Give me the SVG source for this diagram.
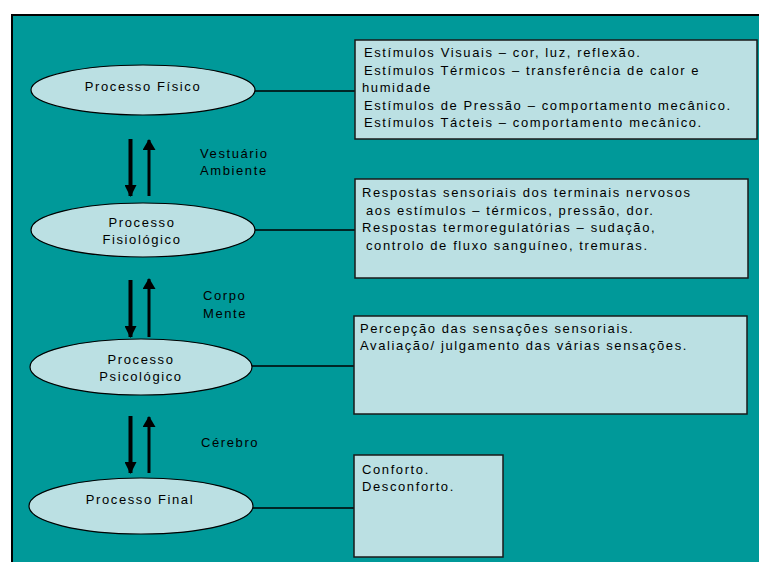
<svg xmlns="http://www.w3.org/2000/svg" width="759" height="562" viewBox="0 0 759 562">
<style>
text{font-family:"Liberation Sans",Arial,sans-serif;font-size:13px;fill:#000;letter-spacing:1.6px}
.c{text-anchor:middle}
.node{fill:#BBE0E3;stroke:#000;stroke-width:1.2}
.box{fill:#BBE0E3;stroke:#1a1a1a;stroke-width:1.5}
.link{stroke:#000;stroke-width:1.5;fill:none}
.dn{stroke:#000;stroke-width:4;marker-end:url(#hd)}
.up{stroke:#000;stroke-width:3;marker-end:url(#hu)}
</style>
<defs>
<marker id="hd" markerUnits="userSpaceOnUse" markerWidth="12" markerHeight="12" viewBox="0 0 12 12" refX="11" refY="6" orient="auto"><path d="M0,0L12,6L0,12z" fill="#000"/></marker>
<marker id="hu" markerUnits="userSpaceOnUse" markerWidth="11" markerHeight="13" viewBox="0 0 11 13" refX="10" refY="6.5" orient="auto"><path d="M0,0L11,6.5L0,13z" fill="#000"/></marker>
</defs>
<rect x="12" y="15" width="760" height="560" fill="#009999" stroke="#000" stroke-width="2"/>
<g id="connectors">
<line class="link" x1="255" y1="91" x2="355" y2="91"/>
<line class="link" x1="255" y1="230" x2="355" y2="230"/>
<line class="link" x1="252" y1="366" x2="354" y2="366"/>
<line class="link" x1="253" y1="508" x2="354" y2="508"/>
<line class="dn" x1="130.5" y1="139" x2="130.5" y2="196"/>
<line class="up" x1="149" y1="196" x2="149" y2="140"/>
<line class="dn" x1="130.5" y1="280" x2="130.5" y2="337"/>
<line class="up" x1="149" y1="337" x2="149" y2="279"/>
<line class="dn" x1="130.5" y1="416" x2="130.5" y2="473"/>
<line class="up" x1="149" y1="473" x2="149" y2="417"/>
</g>
<g id="labels">
<text x="200" y="158">Vestuário</text>
<text x="200" y="175">Ambiente</text>
<text x="203" y="300">Corpo</text>
<text x="203" y="318">Mente</text>
<text x="201" y="447">Cérebro</text>
</g>
<g id="n-fisico">
<ellipse class="node" cx="143" cy="90" rx="112" ry="25"/>
<text class="c" x="143" y="91">Processo Físico</text>
</g>
<g id="n-fisiologico">
<ellipse class="node" cx="143" cy="230" rx="112" ry="27"/>
<text class="c" x="142" y="227">Processo</text>
<text class="c" x="142" y="244">Fisiológico</text>
</g>
<g id="n-psicologico">
<ellipse class="node" cx="141" cy="367" rx="111" ry="28"/>
<text class="c" x="141" y="364">Processo</text>
<text class="c" x="141" y="381">Psicológico</text>
</g>
<g id="n-final">
<ellipse class="node" cx="141" cy="506" rx="112" ry="28"/>
<text class="c" x="140" y="504">Processo Final</text>
</g>
<g id="b-fisico">
<rect class="box" x="355" y="40" width="402" height="99"/>
<text x="364" y="57">Estímulos Visuais – cor, luz, reflexão.</text>
<text x="364" y="75">Estímulos Térmicos – transferência de calor e</text>
<text x="362" y="92">humidade</text>
<text x="364" y="110">Estímulos de Pressão – comportamento mecânico.</text>
<text x="364" y="127">Estímulos Tácteis – comportamento mecânico.</text>
</g>
<g id="b-fisiologico">
<rect class="box" x="355" y="179" width="393" height="99"/>
<text x="362" y="197">Respostas sensoriais dos terminais nervosos</text>
<text x="366" y="215">aos estímulos – térmicos, pressão, dor.</text>
<text x="362" y="232">Respostas termoregulatórias – sudação,</text>
<text x="366" y="250">controlo de fluxo sanguíneo, tremuras.</text>
</g>
<g id="b-psicologico">
<rect class="box" x="354" y="316" width="393" height="98"/>
<text x="360" y="333">Percepção das sensações sensoriais.</text>
<text x="360" y="350">Avaliação/ julgamento das várias sensações.</text>
</g>
<g id="b-final">
<rect class="box" x="354" y="455" width="149" height="102"/>
<text x="362" y="474">Conforto.</text>
<text x="362" y="491">Desconforto.</text>
</g>
</svg>
